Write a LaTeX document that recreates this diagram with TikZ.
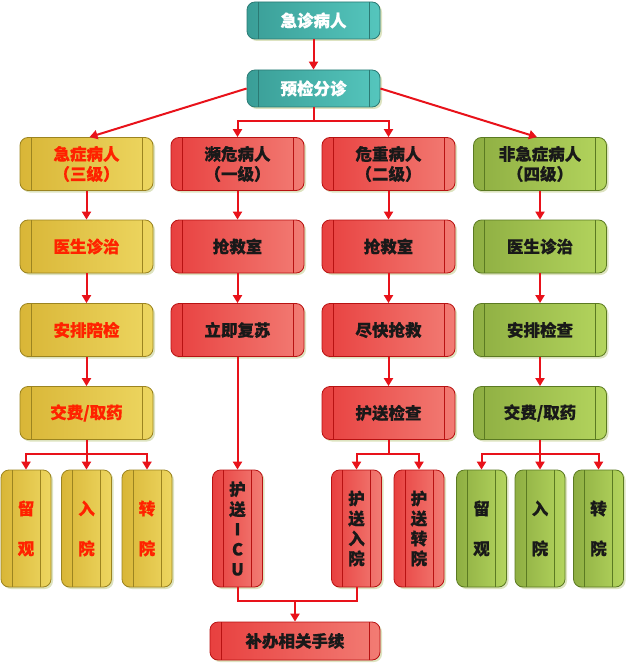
\documentclass[tikz,border=0pt]{standalone}
\usepackage{fontspec}
\setmainfont{Noto Sans CJK SC}[BoldFeatures={FakeBold=0.6}]
\usetikzlibrary{arrows.meta,shadows}
\definecolor{tealD}{HTML}{3A9E97}
\definecolor{tealL}{HTML}{55C6BD}
\definecolor{tealB}{HTML}{2B7A74}
\definecolor{yelD}{HTML}{D9B637}
\definecolor{yelL}{HTML}{EDD660}
\definecolor{yelB}{HTML}{9C8420}
\definecolor{redD}{HTML}{E8403F}
\definecolor{redL}{HTML}{F27C74}
\definecolor{redB}{HTML}{B81212}
\definecolor{grnD}{HTML}{8EAE42}
\definecolor{grnL}{HTML}{B4D55E}
\definecolor{grnB}{HTML}{5B7A22}
\definecolor{arrC}{HTML}{E8121A}
\definecolor{ytxt}{HTML}{FF2200}
\definecolor{shd}{HTML}{D5DCB0}
\begin{document}
\begin{tikzpicture}[x=1pt,y=-1pt,
  every node/.style={font=\fontsize{16.5}{20}\selectfont\bfseries, align=center, inner sep=0pt},
  base/.style={rounded corners=8pt, line width=0.8pt,
    drop shadow={shadow xshift=2pt,shadow yshift=-2pt,fill=shd,opacity=0.8}},
  inlines/.style={path picture={
    \draw[#1,line width=0.8pt,sharp corners]
      ([xshift=11pt]path picture bounding box.north west) -- ([xshift=11pt]path picture bounding box.south west)
      ([xshift=-11pt]path picture bounding box.north east) -- ([xshift=-11pt]path picture bounding box.south east);}},
  tealbox/.style={base, draw=tealB, left color=tealD, right color=tealL, text=white, inlines=tealB},
  yelbox/.style={base, draw=yelB, left color=yelD, right color=yelL, text=ytxt, inlines=yelB},
  redbox/.style={base, draw=redB, left color=redD, right color=redL, text=black!90, inlines=redB},
  grnbox/.style={base, draw=grnB, left color=grnD, right color=grnL, text=black!90, inlines=grnB},
  topsz/.style={minimum width=133pt, minimum height=37pt},
  midsz/.style={minimum width=133pt, minimum height=53pt},
  tallsz/.style={minimum width=50pt, minimum height=117pt},
  wide/.style={font=\fontsize{16.5}{40}\selectfont\bfseries},
  arr/.style={draw=arrC, line width=2pt, -{Triangle[length=8pt,width=9pt]}},
  ln/.style={draw=arrC, line width=2pt}
]
\useasboundingbox (0,0) rectangle (627,663);

% top
\node[tealbox, topsz] (top) at (313.5,20.5) {急诊病人};
\node[tealbox, topsz] (pre) at (313.5,88.5) {预检分诊};

% row 1
\node[yelbox, midsz] (a1) at (86.5,164) {急症病人\\（三级）};
\node[redbox, midsz] (b1) at (237.5,164) {濒危病人\\（一级）};
\node[redbox, midsz] (c1) at (388.5,164) {危重病人\\（二级）};
\node[grnbox, midsz] (d1) at (540,164) {非急症病人\\（四级）};

% row 2
\node[yelbox, midsz] (a2) at (86.5,246.5) {医生诊治};
\node[redbox, midsz] (b2) at (237.5,246.5) {抢救室};
\node[redbox, midsz] (c2) at (388.5,246.5) {抢救室};
\node[grnbox, midsz] (d2) at (540,246.5) {医生诊治};

% row 3
\node[yelbox, midsz] (a3) at (86.5,330) {安排陪检};
\node[redbox, midsz] (b3) at (237.5,330) {立即复苏};
\node[redbox, midsz] (c3) at (388.5,330) {尽快抢救};
\node[grnbox, midsz] (d3) at (540,330) {安排检查};

% row 4
\node[yelbox, midsz] (a4) at (86.5,413) {交费/取药};
\node[redbox, midsz] (c4) at (388.5,413) {护送检查};
\node[grnbox, midsz] (d4) at (540,413) {交费/取药};

% tall boxes
\node[yelbox, tallsz, wide] (ya) at (26,528.5) {留\\观};
\node[yelbox, tallsz, wide] (yb) at (86.5,528.5) {入\\院};
\node[yelbox, tallsz, wide] (yc) at (147,528.5) {转\\院};
\node[redbox, tallsz] (icu) at (237.5,528.5) {护\\送\\I\\C\\U};
\node[redbox, tallsz] (ru) at (356.5,528.5) {护\\送\\入\\院};
\node[redbox, tallsz] (rz) at (419,528.5) {护\\送\\转\\院};
\node[grnbox, tallsz, wide] (ga) at (481.5,528.5) {留\\观};
\node[grnbox, tallsz, wide] (gb) at (540,528.5) {入\\院};
\node[grnbox, tallsz, wide] (gc) at (598.5,528.5) {转\\院};

% final
\node[redbox, minimum width=170pt, minimum height=38pt] (fin) at (295,641) {补办相关手续};

% connectors
\draw[arr] (top) -- (pre);
\draw[arr] (pre.west) -- ([xshift=3pt]a1.north);
\draw[arr] (pre.east) -- ([xshift=-3pt]d1.north);
\coordinate (bp) at (313.5,121);
\draw[arr] (pre.south) -- (bp) -| (b1.north);
\draw[arr] (bp) -| (c1.north);

\foreach \c in {a,b,c,d}{
  \draw[arr] (\c1) -- (\c2);
  \draw[arr] (\c2) -- (\c3);
}
\draw[arr] (a3) -- (a4);
\draw[arr] (c3) -- (c4);
\draw[arr] (d3) -- (d4);
\draw[arr] (b3) -- (icu);

\coordinate (ya0) at (86.5,454);
\draw[arr] (a4.south) -- (ya0) -| (ya.north);
\draw[arr] (ya0) -| (yc.north);
\draw[arr] (ya0) -- (yb.north);

\coordinate (ca0) at (388.5,454);
\draw[arr] (c4.south) -- (ca0) -| (ru.north);
\draw[arr] (ca0) -| (rz.north);

\coordinate (da0) at (540,454);
\draw[arr] (d4.south) -- (da0) -| (ga.north);
\draw[arr] (da0) -| (gc.north);
\draw[arr] (da0) -- (gb.north);

\coordinate (jn) at (295,601);
\draw[ln] (icu.south) |- (jn) -| (ru.south);
\draw[arr] (jn) -- (fin.north);
\end{tikzpicture}
\end{document}
